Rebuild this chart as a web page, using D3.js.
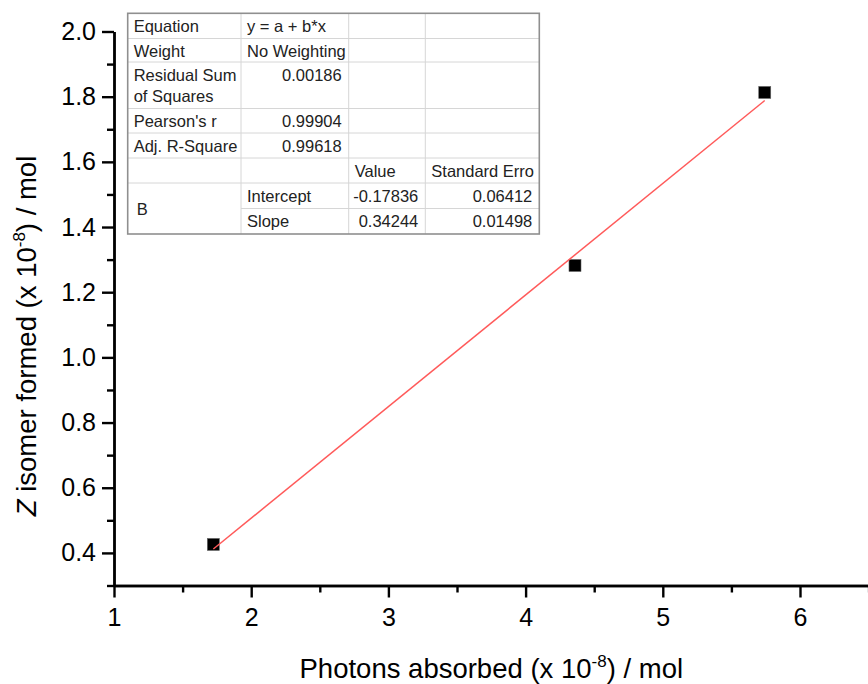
<!DOCTYPE html>
<html>
<head>
<meta charset="utf-8">
<script src="https://cdn.jsdelivr.net/npm/d3@7"></script>
<style>
  html, body { margin: 0; padding: 0; background: #fff; }
  svg { display: block; font-family: "Liberation Sans", Arial, sans-serif; }
</style>
</head>
<body>
<svg id="chart" width="868" height="684"></svg>
<script>
// Measured data: photons absorbed vs Z isomer formed (both x 10^-8 mol)
const photons = [1.724, 4.360, 5.743];
const zIsomer = [0.426, 1.282, 1.813];

// Linear fit y = a + b*x
const fitIntercept = -0.17836;
const fitSlope = 0.34244;

// Axis ticks
const xMajorTicks = [1, 2, 3, 4, 5, 6];
const xMinorTicks = [1.5, 2.5, 3.5, 4.5, 5.5, 6.5];
const yMajorTicks = [0.4, 0.6, 0.8, 1.0, 1.2, 1.4, 1.6, 1.8, 2.0];
const yMinorTicks = [0.3, 0.5, 0.7, 0.9, 1.1, 1.3, 1.5, 1.7, 1.9];

// Fit statistics table
const statLabels = [["Equation"], ["Weight"], ["Residual Sum", "of Squares"], ["Pearson's r"], ["Adj. R-Square"]];
const statValues = ["y = a + b*x", "No Weighting", "0.00186", "0.99904", "0.99618"];
const paramHeaders = ["Value", "Standard Erro"];
const paramGroup = "B";
const paramNames = ["Intercept", "Slope"];
const paramValues = ["-0.17836", "0.34244"];
const paramErrors = ["0.06412", "0.01498"];

const FONT = "'Liberation Sans', Arial, sans-serif";
const svg = d3.select("#chart");

const x = d3.scaleLinear().domain([1, 6.5]).range([114, 868.6]);
const y = d3.scaleLinear().domain([0.3, 2.0]).range([585.5, 31.5]);

const axisStroke = 2.4;
const tickFont = 25;

function styleAxis(g) {
  g.attr("font-family", FONT);
  g.selectAll("path.domain").attr("stroke", "#000").attr("stroke-width", axisStroke);
  g.selectAll(".tick line").attr("stroke", "#000").attr("stroke-width", axisStroke);
  g.selectAll(".tick text")
    .attr("fill", "#000")
    .style("font-size", tickFont + "px")
    .style("font-family", FONT);
}

// X axis: minor then major
svg.append("g")
  .attr("transform", `translate(0,${y(0.3)})`)
  .call(d3.axisBottom(x).tickValues(xMinorTicks).tickSize(7).tickSizeOuter(0).tickFormat(""))
  .call(styleAxis);
svg.append("g")
  .attr("transform", `translate(0,${y(0.3)})`)
  .call(d3.axisBottom(x).tickValues(xMajorTicks).tickSize(12).tickSizeOuter(0)
    .tickPadding(11).tickFormat(d3.format("d")))
  .call(styleAxis);

// Y axis: minor then major
svg.append("g")
  .attr("transform", `translate(${x(1)},0)`)
  .call(d3.axisLeft(y).tickValues(yMinorTicks).tickSize(7).tickSizeOuter(0).tickFormat(""))
  .call(styleAxis);
svg.append("g")
  .attr("transform", `translate(${x(1)},0)`)
  .call(d3.axisLeft(y).tickValues(yMajorTicks).tickSize(12).tickSizeOuter(0)
    .tickPadding(6).tickFormat(d3.format(".1f")))
  .call(styleAxis);

// Axis titles
const titleFont = 27.5;
const xTitle = svg.append("text")
  .attr("x", (x.range()[0] + x.range()[1]) / 2)
  .attr("y", 678)
  .attr("text-anchor", "middle")
  .style("font-family", FONT)
  .style("font-size", titleFont + "px");
xTitle.append("tspan").text("Photons absorbed (x 10");
xTitle.append("tspan").attr("dy", -11).style("font-size", "17px").text("-8");
xTitle.append("tspan").attr("dy", 11).text(") / mol");

const yTitle = svg.append("text")
  .attr("transform", "translate(36,336) rotate(-90)")
  .attr("text-anchor", "middle")
  .style("font-family", FONT)
  .style("font-size", titleFont + "px");
yTitle.append("tspan").style("font-style", "italic").text("Z");
yTitle.append("tspan").text(" isomer formed (x 10");
yTitle.append("tspan").attr("dy", -11).style("font-size", "17px").text("-8");
yTitle.append("tspan").attr("dy", 11).text(") / mol");

// Data markers
const pts = photons.map((p, i) => ({ x: p, y: zIsomer[i] }));
const sq = 12;
svg.append("g").selectAll("rect")
  .data(pts)
  .join("rect")
  .attr("x", d => x(d.x) - sq / 2)
  .attr("y", d => y(d.y) - sq / 2)
  .attr("width", sq)
  .attr("height", sq)
  .attr("fill", "#000")
  .attr("stroke", "#666")
  .attr("stroke-width", 0.6);

// Fitted line across the data range
const xFit = d3.extent(photons);
svg.append("line")
  .attr("x1", x(xFit[0])).attr("y1", y(fitIntercept + fitSlope * xFit[0]))
  .attr("x2", x(xFit[1])).attr("y2", y(fitIntercept + fitSlope * xFit[1]))
  .attr("stroke", "#ff5a5a")
  .attr("stroke-width", 1.5);

// Statistics table
const colEdges = [127.7, 241, 348.7, 425.3, 539.3];
const rowEdges = [13.3, 38.5, 62, 108.5, 133, 158, 183, 208.5, 234];
const tableFont = 16.5;
const padL = 6, padR = 7, baseOff = 18.5, lineGap = 21;
const table = svg.append("g")
  .style("font-family", FONT)
  .style("font-size", tableFont + "px")
  .attr("fill", "#222");

table.append("rect")
  .attr("x", colEdges[0]).attr("y", rowEdges[0])
  .attr("width", colEdges[4] - colEdges[0])
  .attr("height", rowEdges[8] - rowEdges[0])
  .attr("fill", "#fff");

const grid = table.append("g").attr("stroke", "#d6d6d6").attr("stroke-width", 1);
// horizontal rules (the group cell "B" spans the last two rows)
rowEdges.slice(1, -1).forEach((ry, i) => {
  const x0 = (i === 6) ? colEdges[1] : colEdges[0];
  grid.append("line").attr("x1", x0).attr("x2", colEdges[4]).attr("y1", ry).attr("y2", ry);
});
// vertical rules
colEdges.slice(1, -1).forEach(cx => {
  grid.append("line").attr("x1", cx).attr("x2", cx).attr("y1", rowEdges[0]).attr("y2", rowEdges[8]);
});

table.append("rect")
  .attr("x", colEdges[0]).attr("y", rowEdges[0])
  .attr("width", colEdges[4] - colEdges[0])
  .attr("height", rowEdges[8] - rowEdges[0])
  .attr("fill", "none")
  .attr("stroke", "#8f8f8f")
  .attr("stroke-width", 1.6);

function cellText(txt, col, row, align, lineIdx = 0) {
  const tx = align === "end" ? colEdges[col + 1] - padR : colEdges[col] + padL;
  table.append("text")
    .attr("x", tx)
    .attr("y", rowEdges[row] + baseOff + lineIdx * lineGap)
    .attr("text-anchor", align)
    .text(txt);
}

statLabels.forEach((lines, r) => lines.forEach((t, li) => cellText(t, 0, r, "start", li)));
statValues.forEach((v, r) => cellText(v, 1, r, r < 2 ? "start" : "end"));
paramHeaders.forEach((h, i) => cellText(h, 2 + i, 5, "start"));
paramNames.forEach((n, i) => cellText(n, 1, 6 + i, "start"));
paramValues.forEach((v, i) => cellText(v, 2, 6 + i, "end"));
paramErrors.forEach((v, i) => cellText(v, 3, 6 + i, "end"));
table.append("text")
  .attr("x", colEdges[0] + padL + 3)
  .attr("y", (rowEdges[6] + rowEdges[8]) / 2 + 6)
  .text(paramGroup);
</script>
</body>
</html>
